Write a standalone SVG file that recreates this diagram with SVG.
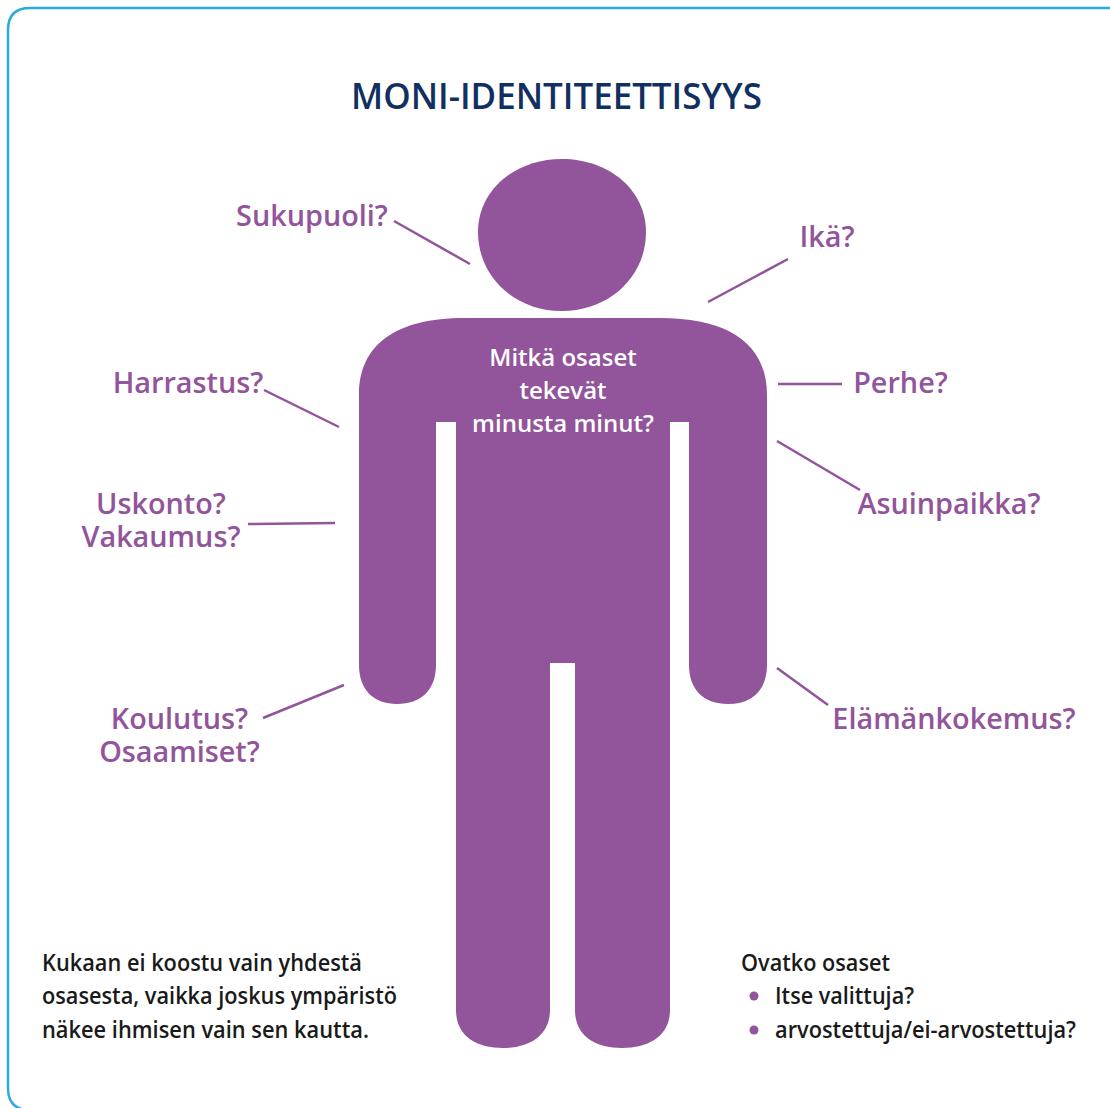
<svg xmlns="http://www.w3.org/2000/svg" width="1110" height="1108" viewBox="0 0 1110 1108">
<style>
.p{font-family:"Open Sans","Noto Sans",sans-serif;font-size:28.8px;font-weight:600;fill:#92549a;text-anchor:middle}
.b{font-family:"Open Sans","Noto Sans",sans-serif;font-size:22.5px;font-weight:600;fill:#1a1a1a}
.w{font-family:"Open Sans","Noto Sans",sans-serif;font-size:24px;font-weight:600;fill:#fff;text-anchor:middle}
.l{stroke:#92549a;stroke-width:2.5;fill:none}
</style>
<rect width="1110" height="1108" fill="#fff"/>
<path d="M1112 8H30Q8 8 8 30V1088Q8 1110 30 1110" fill="none" stroke="#29abe2" stroke-width="2.5"/>
<text x="556.500" y="109" text-anchor="middle" font-family="Open Sans,Noto Sans,sans-serif" font-size="36" font-weight="600" fill="#12305f" textLength="411" lengthAdjust="spacingAndGlyphs">MONI-IDENTITEETTISYYS</text>
<g id="figure">
<path fill="#92549a" d="M478 232C478 190 515 159 562 159C609 159 646 190 646 232C646 277 609 311 562 311C515 311 478 277 478 232Z"/>
<path fill="#92549a" d="M465 318H660C730 318 767 345 767 395V665C767 690 752 704 728 704C704 704 689 690 689 665V422H670V1010C670 1035 650 1048 622 1048C594 1048 575 1035 575 1010V663H550V1010C550 1035 530 1048 503 1048C475 1048 456 1035 456 1010V422H436V665C436 690 421 704 397 704C374 704 359 690 359 665V395C359 345 395 318 465 318Z"/>
<text class="w"><tspan x="563" y="366">Mitkä osaset</tspan><tspan x="563" y="399">tekevät</tspan><tspan x="563" y="432">minusta minut?</tspan></text>
</g>
<g id="connectors">
<path class="l" d="M394 221L470 264M788 259L708 302M778 384H842M264 390L339 427M777 441L860 490M248 524L335 523M777 668L828 705M263 718L344 685"/>
</g>
<g id="labels">
<text class="p" x="312" y="226">Sukupuoli?</text>
<text class="p" x="827" y="247">Ikä?</text>
<text class="p" x="188" y="393">Harrastus?</text>
<text class="p" x="900.500" y="393">Perhe?</text>
<text class="p"><tspan x="161" y="514">Uskonto?</tspan><tspan x="161" y="547">Vakaumus?</tspan></text>
<text class="p" x="949" y="514">Asuinpaikka?</text>
<text class="p"><tspan x="179.500" y="729">Koulutus?</tspan><tspan x="179.500" y="762">Osaamiset?</tspan></text>
<text class="p" x="954" y="729">Elämänkokemus?</text>
</g>
<g id="notes">
<text class="b" x="42" y="971" textLength="320" lengthAdjust="spacingAndGlyphs">Kukaan ei koostu vain yhdestä</text>
<text class="b" x="42" y="1004" textLength="355" lengthAdjust="spacingAndGlyphs">osasesta, vaikka joskus ympäristö</text>
<text class="b" x="42" y="1038" textLength="327" lengthAdjust="spacingAndGlyphs">näkee ihmisen vain sen kautta.</text>
<text class="b" x="741" y="971" textLength="149" lengthAdjust="spacingAndGlyphs">Ovatko osaset</text>
<circle cx="754" cy="996" r="4.500" fill="#92549a"/>
<text class="b" x="775" y="1004" textLength="139" lengthAdjust="spacingAndGlyphs">Itse valittuja?</text>
<circle cx="754" cy="1030" r="4.500" fill="#92549a"/>
<text class="b" x="775" y="1038" textLength="301" lengthAdjust="spacingAndGlyphs">arvostettuja/ei-arvostettuja?</text>
</g>
</svg>
